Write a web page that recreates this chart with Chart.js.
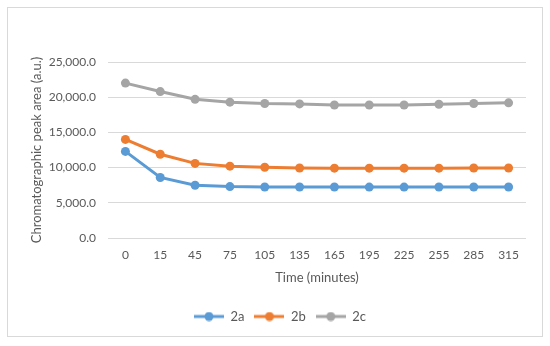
<!DOCTYPE html>
<html>
<head>
<meta charset="utf-8">
<script src="https://cdn.jsdelivr.net/npm/chart.js@4/dist/chart.umd.min.js"></script>
<style>
  body { margin: 0; background: #fff; }
  #wrap {
    position: absolute; left: 7px; top: 7px; width: 536px; height: 330px;
    border: 1px solid #d9d9d9; box-sizing: border-box; background: #fff;
  }
  #chartBox { position: absolute; left: 0; top: 0; width: 534px; height: 328px; }
</style>
</head>
<body>
<div id="wrap"><div id="chartBox"><canvas id="myChart"></canvas></div></div>
<script>
const times = ["0", "15", "45", "75", "105", "135", "165", "195", "225", "255", "285", "315"];
const series2a = [12300, 8600, 7500, 7300, 7250, 7250, 7250, 7230, 7230, 7250, 7250, 7250];
const series2b = [14000, 11900, 10600, 10200, 10050, 9950, 9920, 9920, 9920, 9920, 9950, 9950];
const series2c = [22000, 20800, 19700, 19300, 19100, 19050, 18900, 18900, 18900, 19000, 19100, 19200];
const yTicks = [0, 5000, 10000, 15000, 20000, 25000];

const colors = { a: "#5b9bd5", b: "#ed7d31", c: "#a5a5a5" };
const fontName = "Lato, 'Open Sans', sans-serif";

// little line+marker picture for the legend, like excel does it
function legendIcon(color) {
  const c = document.createElement("canvas");
  c.width = 30;
  c.height = 10;
  const ctx = c.getContext("2d");
  ctx.strokeStyle = color;
  ctx.lineWidth = 3;
  ctx.beginPath();
  ctx.moveTo(0, 5);
  ctx.lineTo(30, 5);
  ctx.stroke();
  ctx.fillStyle = color;
  ctx.beginPath();
  ctx.arc(15, 5, 4.5, 0, Math.PI * 2);
  ctx.fill();
  return c;
}

function makeDataset(label, values, color) {
  return {
    label: label,
    data: values,
    borderColor: color,
    backgroundColor: color,
    pointBackgroundColor: color,
    pointBorderWidth: 0,
    pointRadius: 4.5,
    borderWidth: 3,
    tension: 0,
  };
}

// legend sits a bit right of centre in the original
const shiftLegend = {
  id: "shiftLegend",
  afterLayout: function (chart) {
    if (chart.legend) {
      chart.legend.left += 13;
      chart.legend.right += 13;
    }
  },
};

const config = {
  type: "line",
  data: {
    labels: times,
    datasets: [
      makeDataset("2a", series2a, colors.a),
      makeDataset("2b", series2b, colors.b),
      makeDataset("2c", series2c, colors.c),
    ],
  },
  options: {
    responsive: true,
    maintainAspectRatio: false,
    animation: false,
    layout: { padding: { top: 54, right: 16, left: 0, bottom: 3 } },
    plugins: {
      tooltip: { enabled: false },
      legend: {
        position: "bottom",
        labels: {
          usePointStyle: true,
          pointStyleWidth: 30,
          boxHeight: 10,
          padding: 10,
          color: "#595959",
          font: { family: fontName, size: 13 },
          generateLabels: function (chart) {
            const items = Chart.defaults.plugins.legend.labels.generateLabels(chart);
            items.forEach(function (it, i) {
              it.pointStyle = legendIcon(chart.data.datasets[i].borderColor);
            });
            return items;
          },
        },
      },
    },
    scales: {
      x: {
        offset: true,
        afterFit: function (scale) { scale.height = 62; },
        grid: { display: false, drawTicks: false },
        border: { display: false },
        ticks: { color: "#595959", padding: 10, font: { family: fontName, size: 12 }, maxRotation: 0 },
        title: {
          display: true,
          text: "Time (minutes)",
          color: "#595959",
          font: { family: fontName, size: 13 },
          padding: { top: 4, bottom: 14 },
        },
      },
      y: {
        min: 0,
        max: 25000,
        afterFit: function (scale) { scale.width = 100; },
        afterBuildTicks: function (scale) {
          scale.ticks = yTicks.map(function (v) { return { value: v }; });
        },
        grid: { color: "#d9d9d9", lineWidth: 1, drawTicks: false },
        border: { display: false },
        ticks: {
          color: "#595959",
          padding: 12,
          font: { family: fontName, size: 12 },
          callback: function (v) {
            return Number(v).toLocaleString("en-US", { minimumFractionDigits: 1, maximumFractionDigits: 1 });
          },
        },
        title: {
          display: true,
          text: "Chromatographic peak area (a.u.)",
          color: "#595959",
          font: { family: fontName, size: 13 },
          padding: { top: 21, bottom: 0 },
        },
      },
    },
  },
  plugins: [shiftLegend],
};

const myChart = new Chart(document.getElementById("myChart"), config);
</script>
</body>
</html>
